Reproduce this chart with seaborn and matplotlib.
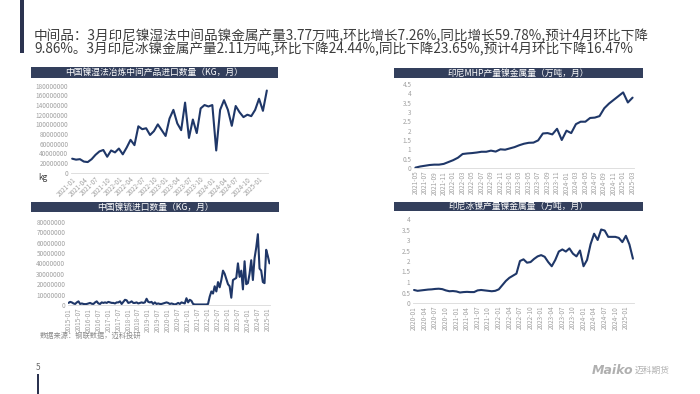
import numpy as np
import pandas as pd
import matplotlib
matplotlib.use("Agg")
import matplotlib.pyplot as plt
from matplotlib.patches import Rectangle
import seaborn as sns

# ---------------- data ----------------
header_line1 = "中间品：3月印尼镍湿法中间品镍金属产量3.77万吨,环比增长7.26%,同比增长59.78%,预计4月环比下降"
header_line2 = "9.86%。3月印尼冰镍金属产量2.11万吨,环比下降24.44%,同比下降23.65%,预计4月环比下降16.47%"

# Chart 1: China nickel wet-process intermediate imports (million kg), 2021-01 .. 2025-03
wet_title = "中国镍湿法冶炼中间产品进口数量（KG，月）"
wet_start, wet_end = "2021-01", "2025-03"
wet_mkg = [29, 27, 28, 23, 22, 28, 37, 44, 47, 33, 46, 42, 50, 38, 52, 68, 57, 96, 90, 92,
           78, 86, 100, 88, 76, 112, 130, 102, 88, 145, 72, 110, 82, 133, 140, 137, 140, 46, 130, 150,
           130, 97, 138, 125, 115, 120, 117, 130, 153, 128, 170]

# Chart 2: Indonesia MHP nickel content (10k t), 2021-05 .. 2025-03
mhp_title = "印尼MHP产量镍金属量（万吨，月）"
mhp_start, mhp_end = "2021-05", "2025-03"
mhp_values = [0.02, 0.08, 0.12, 0.16, 0.18, 0.18, 0.22, 0.32, 0.42, 0.55,
              0.75, 0.78, 0.80, 0.83, 0.87, 0.87, 0.93, 0.88, 1.00, 0.98,
              1.05, 1.12, 1.22, 1.30, 1.35, 1.36, 1.48, 1.85, 1.87, 1.80,
              2.10, 1.50, 2.00, 1.87, 2.35, 2.48, 2.48, 2.68, 2.70, 2.78,
              3.20, 3.45, 3.65, 3.85, 4.05, 3.51, 3.77]

# Chart 3: China nickel matte imports (million kg), 2015-01 .. 2025-02
matte_title = "中国镍锍进口数量（KG，月）"
matte_start, matte_end = "2015-01", "2025-02"
matte_mkg = [2.0, 3.0, 2.5, 1.5, 1.0, 2.5, 3.5, 1.0, 1.5, 1.0, 0.8, 1.0,
             1.5, 2.0, 1.2, 1.0, 2.5, 3.5, 1.5, 1.0, 2.5, 2.0, 2.5, 2.0,
             3.0, 2.5, 2.0, 2.0, 1.5, 2.5, 2.5, 3.5, 1.0, 3.0, 5.0, 4.5,
             2.0, 2.5, 3.5, 2.0, 2.0, 2.5, 1.5, 2.0, 2.5, 2.0, 2.5, 6.0,
             3.0, 2.5, 3.0, 1.0, 2.5, 1.0, 1.5, 1.0, 1.0, 1.5, 2.0, 2.5,
             2.0, 1.0, 1.5, 1.0, 0.5, 1.0, 2.0, 1.0, 2.5, 2.0, 1.5, 6.5,
             2.5, 5.0, 4.0, 1.0, 0.5, 0.5, 0.5, 0.5, 0.5, 0.5, 0.5, 0.5,
             1, 8, 13, 11, 18, 13, 22, 17, 24, 33, 30, 25,
             20, 18, 7, 24, 25, 26, 40, 27, 33, 15, 42, 20,
             21, 30, 43, 24, 45, 55, 68, 35, 33, 22, 21, 53,
             47, 40]

# Chart 4: Indonesia nickel matte nickel content (10k t), 2020-01 .. 2025-03
nm_title = "印尼冰镍产量镍金属量（万吨，月）"
nm_start, nm_end = "2020-01", "2025-03"
nm_values = [0.62, 0.58, 0.60, 0.62, 0.64, 0.65, 0.67, 0.68, 0.66, 0.60, 0.56, 0.57,
             0.55, 0.50, 0.52, 0.53, 0.52, 0.52, 0.60, 0.62, 0.60, 0.58, 0.56, 0.58,
             0.65, 0.85, 1.05, 1.20, 1.30, 1.40, 2.00, 2.08, 1.92, 1.95, 2.10, 2.22,
             2.28, 2.20, 1.95, 1.75, 2.05, 2.45, 2.55, 2.45, 2.60, 2.35, 2.22, 2.50,
             1.75, 2.05, 2.80, 3.30, 3.00, 3.50, 3.45, 3.15, 3.15, 3.15, 3.10, 2.90,
             3.20, 2.79, 2.11]

source_text = "数据来源：钢联数据，迈科投研"
page_no = "5"
logo_text = "Maiko"
logo_cn = "迈科期货"

# ---------------- style ----------------
sns.set_theme(style="white")
plt.rcParams["font.family"] = ["Noto Sans CJK SC", "DejaVu Sans"]
plt.rcParams["axes.unicode_minus"] = False

W, H = 700, 394
fig = plt.figure(figsize=(W / 100, H / 100), dpi=100)
fig.patch.set_facecolor("white")

LINE = "#1f3768"
BAR = "#333f5c"
TICK = "#a0a0a0"


def px_rect(x0, y0, x1, y1):
    """figure-fraction rect from pixel coords (top-left origin)."""
    return [x0 / W, 1 - y1 / H, (x1 - x0) / W, (y1 - y0) / H]


def title_bar(x0, y0, x1, y1, text):
    fig.add_artist(Rectangle((x0 / W, 1 - y1 / H), (x1 - x0) / W, (y1 - y0) / H,
                             transform=fig.transFigure, facecolor=BAR, edgecolor="none"))
    fig.text((x0 + x1) / 2 / W, 1 - (y0 + y1) / 2 / H, text, color="white",
             fontsize=6.3, ha="center", va="center")


def make_chart(rect, start, end, values, scale, ymax, ystep, tick_every, rot, ydecimals):
    months = pd.period_range(start, end, freq="M").strftime("%Y-%m")
    df = pd.DataFrame({"idx": np.arange(len(values)),
                       "val": np.asarray(values, dtype=float) * scale})
    ax = fig.add_axes(rect)
    sns.lineplot(data=df, x="idx", y="val", ax=ax, color=LINE, linewidth=1.5)
    ax.set_xlim(-0.3, len(values) - 0.7)
    ax.set_ylim(0, ymax)
    yt = np.arange(0, ymax + ystep / 2, ystep)
    ax.set_yticks(yt)
    if ydecimals:
        ax.set_yticklabels([("%g" % v) for v in yt])
    else:
        ax.set_yticklabels([("%d" % round(v)) for v in yt])
    pos = np.arange(0, len(values), tick_every)
    ax.set_xticks(pos)
    if rot == 45:
        ax.set_xticklabels([months[i] for i in pos], rotation=45, ha="right",
                           rotation_mode="anchor")
    else:
        ax.set_xticklabels([months[i] for i in pos], rotation=90, ha="center")
    ax.tick_params(axis="both", labelsize=4.6, colors=TICK, length=0, pad=2)
    ax.set_xlabel("")
    ax.set_ylabel("")
    for s in ["top", "right", "left"]:
        ax.spines[s].set_visible(False)
    ax.spines["bottom"].set_color("#d9d9d9")
    ax.spines["bottom"].set_linewidth(0.6)
    ax.grid(False)
    ax.set_facecolor("none")
    return ax


# ---------------- header ----------------
fig.add_artist(Rectangle((19.5 / W, 1 - 53 / H), 4 / W, 53 / H, transform=fig.transFigure,
                         facecolor="#2b3350", edgecolor="none"))
fig.text(34 / W, 1 - 42.5 / H, header_line1 + "\n" + header_line2, fontsize=9.8,
         color="#3d3d3d", va="center", ha="left", linespacing=0.92)

# ---------------- chart 1 ----------------
title_bar(31, 67, 278, 78, wet_title)
make_chart(px_rect(71, 85.7, 268, 172.7), wet_start, wet_end, wet_mkg, 1e6,
           180e6, 20e6, 3, 45, False)
fig.text(43 / W, 1 - 178 / H, "kg", fontsize=6, color="#404040", ha="center", va="center")

# ---------------- chart 2 ----------------
title_bar(394, 68, 643, 78, mhp_title)
make_chart(px_rect(414, 84, 634, 168), mhp_start, mhp_end, mhp_values, 1.0,
           4.5, 0.5, 2, 90, True)

# ---------------- chart 3 ----------------
title_bar(31, 202, 279, 212, matte_title)
make_chart(px_rect(68, 221.7, 270, 305), matte_start, matte_end, matte_mkg, 1e6,
           80e6, 10e6, 6, 90, False)
fig.text(40 / W, 1 - 336 / H, source_text, fontsize=5.2, color="#8a8a8a", ha="left", va="center")

# ---------------- chart 4 ----------------
title_bar(394, 202, 643, 211, nm_title)
make_chart(px_rect(413, 219, 634, 303), nm_start, nm_end, nm_values, 1.0,
           4.0, 0.5, 3, 90, True)

# ---------------- footer ----------------
fig.text(38 / W, 1 - 368 / H, page_no, fontsize=6, color="#6a6a6a", ha="center", va="center")
fig.add_artist(Rectangle((36.5 / W, 0), 2 / W, 20 / H, transform=fig.transFigure,
                         facecolor="#2b3350", edgecolor="none"))
fig.text(633 / W, 1 - 370 / H, logo_text, fontsize=9, color="#b0b0b0", ha="right", va="center",
         fontweight="bold", style="italic", family=["DejaVu Sans"])
fig.text(635 / W, 1 - 370.5 / H, logo_cn, fontsize=6.3, color="#b0b0b0", ha="left", va="center")

fig.savefig("out.png", dpi=100, facecolor="white")
